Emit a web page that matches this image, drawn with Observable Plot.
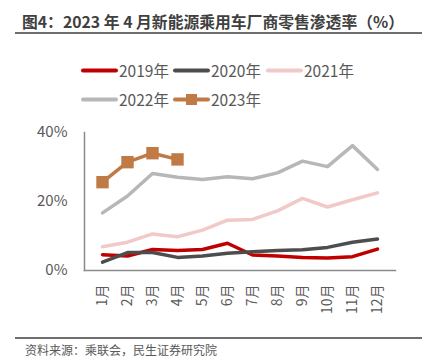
<!DOCTYPE html>
<html><head><meta charset="utf-8">
<script src="https://cdn.jsdelivr.net/npm/d3@7"></script>
<script src="https://cdn.jsdelivr.net/npm/@observablehq/plot@0.6"></script>
<style>
body{margin:0;background:#fff;font-family:"Noto Sans CJK SC","Noto Sans",sans-serif;}
#wrap{position:relative;width:426px;height:363px;overflow:hidden;}
#title{position:absolute;left:0;width:426px;top:10px;text-align:center;font-size:15.8px;font-weight:bold;color:#404040;line-height:24px;white-space:nowrap;}
.rule{position:absolute;left:15px;width:407px;background:#6e6e6e;}
#legend{position:absolute;left:83px;top:58px;width:330px;font-size:15.5px;color:#595959;}
.li{position:absolute;display:flex;align-items:center;height:24px;white-space:nowrap;}
.li svg{margin-right:3px;}
#chart{position:absolute;left:0;top:115px;}
#caption{position:absolute;left:25px;top:341px;font-size:12px;color:#595959;line-height:18px;white-space:nowrap;}
</style></head>
<body>
<div id="wrap">
<div id="title">图4：2023 年 4 月新能源乘用车厂商零售渗透率（%）</div>
<div class="rule" style="top:32px;height:2px;"></div>
<div id="legend"></div>
<div id="chart"></div>
<div class="rule" style="top:337px;height:1.5px;"></div>
<div id="caption">资料来源：乘联会，民生证券研究院</div>
</div>
<script>
const months = ["1月","2月","3月","4月","5月","6月","7月","8月","9月","10月","11月","12月"];
const seriesNames = ["2019年","2020年","2021年","2022年","2023年"];
const v2019 = [4.6, 4.2, 6.1, 5.8, 6.1, 7.9, 4.5, 4.2, 3.8, 3.6, 4.0, 6.2];
const v2020 = [2.4, 5.2, 5.2, 3.8, 4.2, 5.0, 5.4, 5.8, 6.0, 6.7, 8.2, 9.1];
const v2021 = [6.9, 8.2, 10.6, 9.8, 11.7, 14.6, 14.8, 17.3, 20.9, 18.4, 20.5, 22.5];
const v2022 = [16.7, 21.6, 28.1, 27.0, 26.4, 27.2, 26.6, 28.3, 31.7, 30.1, 36.2, 29.3];
const v2023 = [25.6, 31.4, 34.0, 32.2];
const yTicks = [0, 20, 40];

const seriesValues = [v2019, v2020, v2021, v2022, v2023];
const colorRange = ["#C00000", "#4D4D4D", "#F2C9C9", "#B7B7B7", "#C07A45"];

const rows = [];
seriesValues.forEach((vals, s) => {
  vals.forEach((v, i) => rows.push({month: months[i], value: v, series: seriesNames[s]}));
});
const rows2023 = rows.filter(d => d.series === "2023年");

// legend
const legend = document.getElementById("legend");
const legendPos = [[0,0],[92,0],[185,0],[0,29],[92,29]];
seriesNames.forEach((name, i) => {
  const el = document.createElement("div");
  el.className = "li";
  el.style.left = legendPos[i][0] + "px";
  el.style.top = legendPos[i][1] + "px";
  const c = colorRange[i];
  const marker = name === "2023年" ? `<rect x="11" y="10" width="11" height="11" fill="${c}"/>` : "";
  el.innerHTML = `<svg width="33" height="31" style="overflow:visible"><line x1="0" x2="33" y1="15.5" y2="15.5" stroke="${c}" stroke-width="4" stroke-linecap="round"/>${marker}</svg><span>${name}</span>`;
  legend.appendChild(el);
});

const chart = Plot.plot({
  width: 426,
  height: 215,
  marginLeft: 84,
  marginRight: 31,
  marginTop: 17,
  marginBottom: 60,
  style: {fontFamily: '"Noto Sans CJK SC","Noto Sans",sans-serif', color: "#595959", background: "transparent"},
  x: {type: "point", domain: months, padding: 0.5, label: null},
  y: {domain: [0, 40], label: null},
  color: {domain: seriesNames, range: colorRange},
  marks: [
    Plot.axisY({ticks: yTicks, tickFormat: d => d + "%", tickSize: 0, tickPadding: 17, fontSize: 15, label: null}),
    Plot.axisX({tickRotate: -90, tickSize: 0, tickPadding: 14, fontSize: 14, label: null}),
    Plot.frame({anchor: "left", stroke: "#8a8a8a", strokeWidth: 1.5}),
    Plot.frame({anchor: "bottom", stroke: "#8a8a8a", strokeWidth: 1.5}),
    Plot.line(rows, {x: "month", y: "value", z: "series", stroke: "series", strokeWidth: 3.5, strokeLinejoin: "round"}),
    Plot.dot(rows2023, {x: "month", y: "value", symbol: "square", r: 7, fill: "series", stroke: null})
  ]
});
document.getElementById("chart").appendChild(chart);
</script>
</body></html>
